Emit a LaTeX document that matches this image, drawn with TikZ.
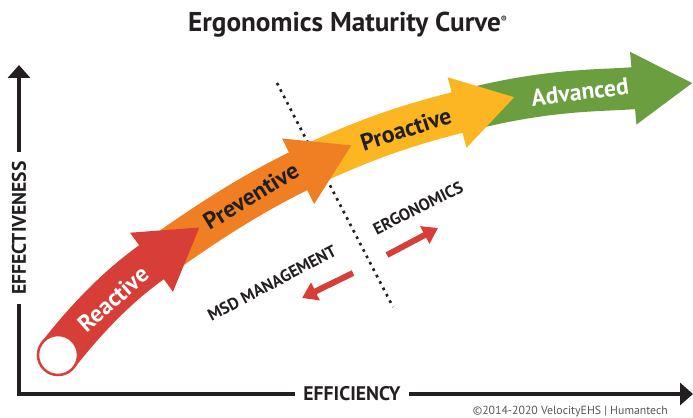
\documentclass[tikz,border=0pt]{standalone}
\usepackage{fontspec}
\setmainfont{PT Sans}
\usetikzlibrary{arrows.meta}
\definecolor{reactred}{RGB}{214,62,55}
\definecolor{prevorange}{RGB}{240,126,34}
\definecolor{proyellow}{RGB}{251,182,34}
\definecolor{advgreen}{RGB}{106,158,62}
\definecolor{inkdark}{RGB}{35,31,32}
\tikzset{
  band/.style={line width=0.84cm, -{Triangle[length=1.2cm,width=1.37cm]}},
  stage/.style={font=\bfseries\fontsize{13.5}{15}\selectfont, inner sep=0pt},
  axis/.style={line width=0.08cm, inkdark},
  axislabel/.style={font=\bfseries\fontsize{11.2}{13}\selectfont, text=inkdark, fill=white, inner xsep=5pt, inner ysep=1pt},
  zone/.style={font=\bfseries\fontsize{9.5}{11}\selectfont, text=inkdark, inner sep=0pt},
  shiftarrow/.style={reactred, line width=0.12cm, -{Triangle[length=0.3cm,width=0.38cm]}},
}

\begin{document}
\begin{tikzpicture}[x=0.02cm,y=0.02cm]
    %%%%% frame %%%%%
    \useasboundingbox (0,0) rectangle (693,417);

    \node[font=\bfseries\fontsize{15.5}{18}\selectfont, text=inkdark] (title) at (348,392) {Ergonomics Maturity Curve\textsuperscript{\tiny ®}};

    %%%%% axes %%%%%
    \coordinate (origin) at (19,23);
    \coordinate (ytop) at (19,352);
    \coordinate (xend) at (693,23);
    \draw[axis, {Triangle[length=0.26cm,width=0.44cm]}-{Triangle[length=0.26cm,width=0.44cm]}] (ytop) -- (origin) -- (xend);
    \node[axislabel, rotate=90] (effectiveness) at (19,189) {EFFECTIVENESS};
    \node[axislabel] (efficiency) at (352,23) {EFFICIENCY};

    %%%%% divider %%%%%
    \coordinate (divtop) at (277,334);
    \coordinate (divbottom) at (393,110);
    \draw[inkdark, line width=1.5pt, dash pattern=on 1.5pt off 2.6pt] (divtop) -- (divbottom);

    %%%%% curve %%%%%
    \coordinate (start) at (58,62);
    \coordinate (redbase) at (152,155);
    \coordinate (redtip) at (200,190);
    \coordinate (orangebase) at (298,246);
    \coordinate (orangetip) at (352,272);
    \coordinate (yellowbase) at (459,305);
    \coordinate (yellowtip) at (515,320);
    \coordinate (greentip) at (693,334);

    \draw[band, advgreen] (yellowbase) to[out=15,in=185] (greentip);
    \draw[band, proyellow] (orangebase) to[out=26,in=195] (yellowtip);
    \draw[band, prevorange] (redbase) to[out=36,in=206] (orangetip);
    \draw[band, reactred] (start) to[out=52,in=216] (redtip);
    \node[circle, draw=reactred, fill=white, line width=0.05cm, minimum size=0.8cm, inner sep=0pt] (startring) at (start) {};

    \node[stage, white, rotate=41.5] (reactive) at (113,118) {Reactive};
    \node[stage, inkdark, rotate=31.5] (preventive) at (251,221) {Preventive};
    \node[stage, inkdark, rotate=18] (proactive) at (406,288) {Proactive};
    \node[stage, white, rotate=7] (advanced) at (580,325) {Advanced};

    %%%%% msd vs ergonomics %%%%%
    \node[zone, rotate=27.8] (msd) at (272,134) {MSD MANAGEMENT};
    \node[zone, rotate=26.5] (ergo) at (418,209) {ERGONOMICS};

    \coordinate (msdfrom) at (353,144);
    \coordinate (msdto) at (302,119);
    \coordinate (ergofrom) at (387,162);
    \coordinate (ergoto) at (438,189);
    \draw[shiftarrow] (msdfrom) -- (msdto);
    \draw[shiftarrow] (ergofrom) -- (ergoto);

    \node[font=\fontsize{6.7}{8}\selectfont, text=black!65, anchor=east] (credit) at (674,5) {©2014-2020 VelocityEHS | Humantech};
\end{tikzpicture}
\end{document}
